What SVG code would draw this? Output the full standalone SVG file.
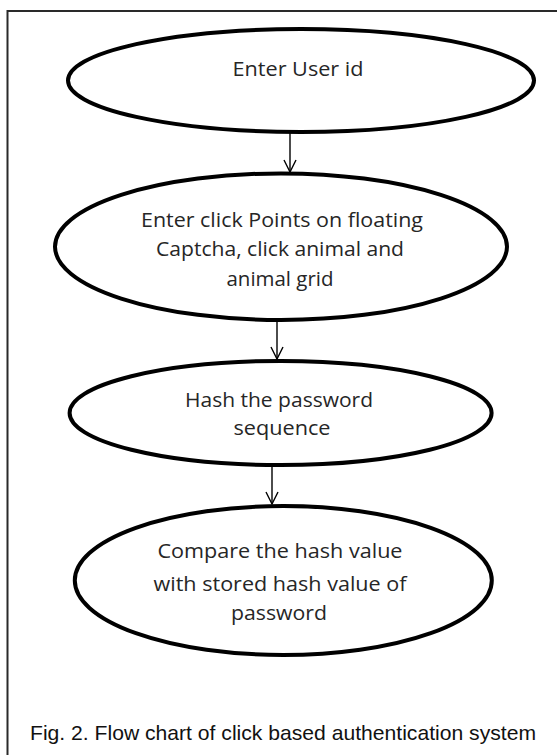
<svg xmlns="http://www.w3.org/2000/svg" width="557" height="755" viewBox="0 0 557 755">
  <style>
    .node { fill: #ffffff; stroke: #000000; stroke-width: 4; }
    .lbl { font-family: "Open Sans", "Noto Sans", "DejaVu Sans", sans-serif; font-size: 19.5px; fill: #262626; text-anchor: middle; }
    .edge { stroke: #000000; stroke-width: 1.4; fill: none; }
    .cap { font-family: "Liberation Sans", Arial, sans-serif; font-size: 21px; fill: #111111; }
  </style>
  <defs>
    <marker id="arr" markerUnits="userSpaceOnUse" markerWidth="14" markerHeight="14" viewBox="0 0 14 14" refX="13" refY="7" orient="auto">
      <path d="M1,1 L13,7 L1,13" fill="none" stroke="#000000" stroke-width="1.4"/>
    </marker>
  </defs>
  <rect width="557" height="755" fill="#ffffff"/>
  <rect id="frame" x="7.5" y="11" width="620" height="800" fill="none" stroke="#2a2a2a" stroke-width="2"/>

  <g id="connectors">
    <line class="edge" x1="290" y1="132" x2="290" y2="172" marker-end="url(#arr)"/>
    <line class="edge" x1="277" y1="321" x2="277" y2="359" marker-end="url(#arr)"/>
    <line class="edge" x1="272" y1="466" x2="272" y2="504" marker-end="url(#arr)"/>
  </g>

  <g id="n1">
    <ellipse class="node" cx="301" cy="80.5" rx="233" ry="51.5"/>
    <text class="lbl" x="298" y="76" textLength="131" lengthAdjust="spacingAndGlyphs">Enter User id</text>
  </g>

  <g id="n2">
    <ellipse class="node" cx="281" cy="246.7" rx="226" ry="73.3"/>
    <text class="lbl" x="282" y="227" textLength="282" lengthAdjust="spacingAndGlyphs">Enter click Points on floating</text>
    <text class="lbl" x="280" y="256" textLength="248" lengthAdjust="spacingAndGlyphs">Captcha, click animal and</text>
    <text class="lbl" x="280" y="286" textLength="107" lengthAdjust="spacingAndGlyphs">animal grid</text>
  </g>

  <g id="n3">
    <ellipse class="node" cx="280.6" cy="413" rx="211" ry="52"/>
    <text class="lbl" x="279" y="407" textLength="188" lengthAdjust="spacingAndGlyphs">Hash the password</text>
    <text class="lbl" x="282" y="435" textLength="97" lengthAdjust="spacingAndGlyphs">sequence</text>
  </g>

  <g id="n4">
    <ellipse class="node" cx="283.3" cy="580.5" rx="208.5" ry="74.5"/>
    <text class="lbl" x="280" y="558" textLength="245" lengthAdjust="spacingAndGlyphs">Compare the hash value</text>
    <text class="lbl" x="280" y="591" textLength="253" lengthAdjust="spacingAndGlyphs">with stored hash value of</text>
    <text class="lbl" x="279" y="620" textLength="96" lengthAdjust="spacingAndGlyphs">password</text>
  </g>

  <text id="caption" class="cap" x="30" y="740" textLength="506" lengthAdjust="spacingAndGlyphs">Fig. 2. Flow chart of click based authentication system</text>
</svg>
